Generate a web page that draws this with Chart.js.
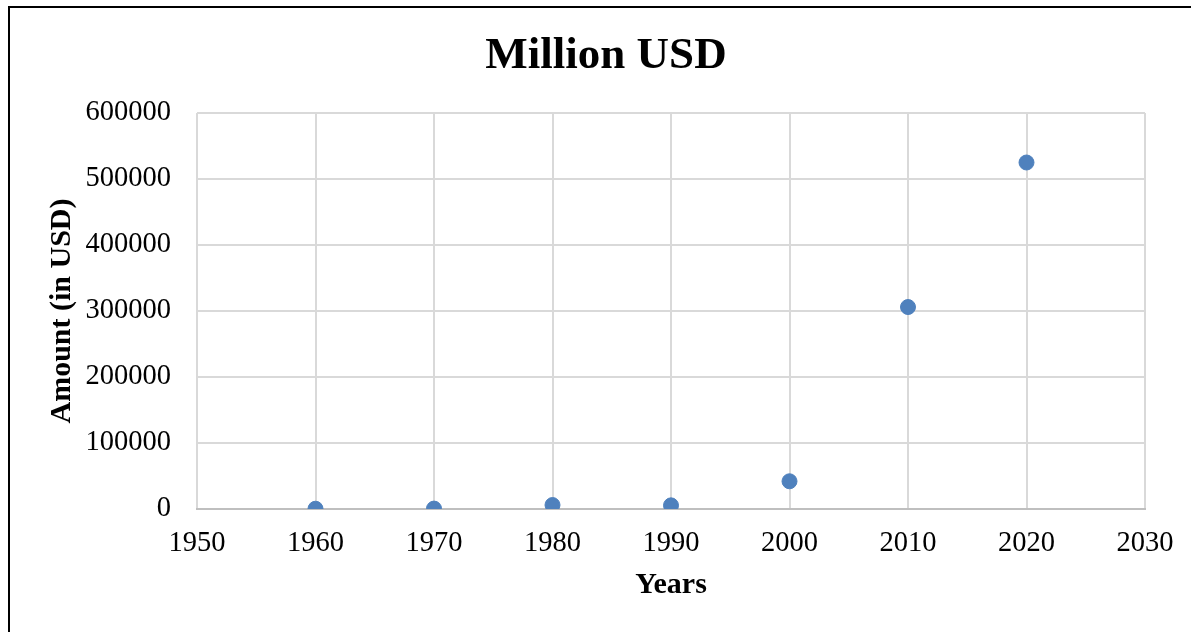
<!DOCTYPE html>
<html>
<head>
<meta charset="utf-8">
<script src="https://cdn.jsdelivr.net/npm/chart.js@4"></script>
<style>
  body { margin: 0; background: #fff; overflow: hidden; }
  #wrap { position: relative; width: 1191px; height: 632px; }
  #frame {
    position: absolute; left: 8px; top: 6px; right: -10px; bottom: -10px;
    border-top: 2px solid #000; border-left: 2px solid #000;
    pointer-events: none;
  }
  #above {
    position: absolute; left: -4px; top: -27px;
    font: bold 28px "Liberation Serif", "Times New Roman", serif;
    color: #000; white-space: nowrap;
  }
</style>
</head>
<body>
<div id="wrap">
  <div id="above">407 million USD.</div>
  <canvas id="myChart" width="1191" height="632"></canvas>
  <div id="frame"></div>
</div>
<script>
// values (million USD)
const years = [1960, 1970, 1980, 1990, 2000, 2010, 2020];
const amounts = [407, 600, 6000, 5500, 42000, 306000, 525000];
const xTicks = [1950, 1960, 1970, 1980, 1990, 2000, 2010, 2020, 2030];
const yTicks = [0, 100000, 200000, 300000, 400000, 500000, 600000];

const serif = "'Liberation Serif', 'Times New Roman', serif";

let points = [];
for (let i = 0; i < years.length; i += 1) {
  points.push({ x: years[i], y: amounts[i] });
}

const ctx = document.getElementById("myChart").getContext("2d");
const myChart = new Chart(ctx, {
  type: "scatter",
  data: {
    datasets: [
      {
        label: "Million USD",
        data: points,
        backgroundColor: "#4f81bd",
        borderColor: "#4f81bd",
        pointRadius: 7.5,
        pointHoverRadius: 7.5,
      },
    ],
  },
  options: {
    responsive: false,
    animation: false,
    // left padding bigger than right so the title sits where it does in the picture
    layout: { padding: { left: 67, right: 46, top: 0, bottom: 0 } },
    plugins: {
      legend: { display: false },
      tooltip: { enabled: false },
      title: {
        display: true,
        text: "Million USD",
        color: "#000",
        font: { family: serif, size: 45, weight: "bold" },
        padding: { top: 29, bottom: 30 },
      },
    },
    scales: {
      x: {
        type: "linear",
        min: xTicks[0],
        max: xTicks[xTicks.length - 1],
        afterBuildTicks: (scale) => { scale.ticks = xTicks.map((v) => ({ value: v })); },
        afterFit: (scale) => { scale.height = 123; },
        ticks: {
          color: "#000",
          padding: 17,
          maxRotation: 0,
          font: { family: serif, size: 28.5 },
          callback: (v) => String(v),
        },
        grid: { color: "#d9d9d9", lineWidth: 2, drawTicks: false },
        border: { color: "#bfbfbf", width: 2 },
        title: {
          display: true,
          text: "Years",
          color: "#000",
          font: { family: serif, size: 30, weight: "bold" },
          padding: { top: 0, bottom: 29 },
        },
      },
      y: {
        min: yTicks[0],
        max: yTicks[yTicks.length - 1],
        afterBuildTicks: (scale) => { scale.ticks = yTicks.map((v) => ({ value: v })); },
        afterFit: (scale) => { scale.width = 130; },
        ticks: {
          color: "#000",
          padding: 26,
          font: { family: serif, size: 28.5 },
          callback: (v) => String(v),
        },
        grid: { color: "#d9d9d9", lineWidth: 2, drawTicks: false },
        border: { display: false },
        title: {
          display: true,
          text: "Amount (in USD)",
          color: "#000",
          font: { family: serif, size: 30, weight: "bold" },
          padding: { top: -23, bottom: 0 },
        },
      },
    },
  },
});
</script>
</body>
</html>
